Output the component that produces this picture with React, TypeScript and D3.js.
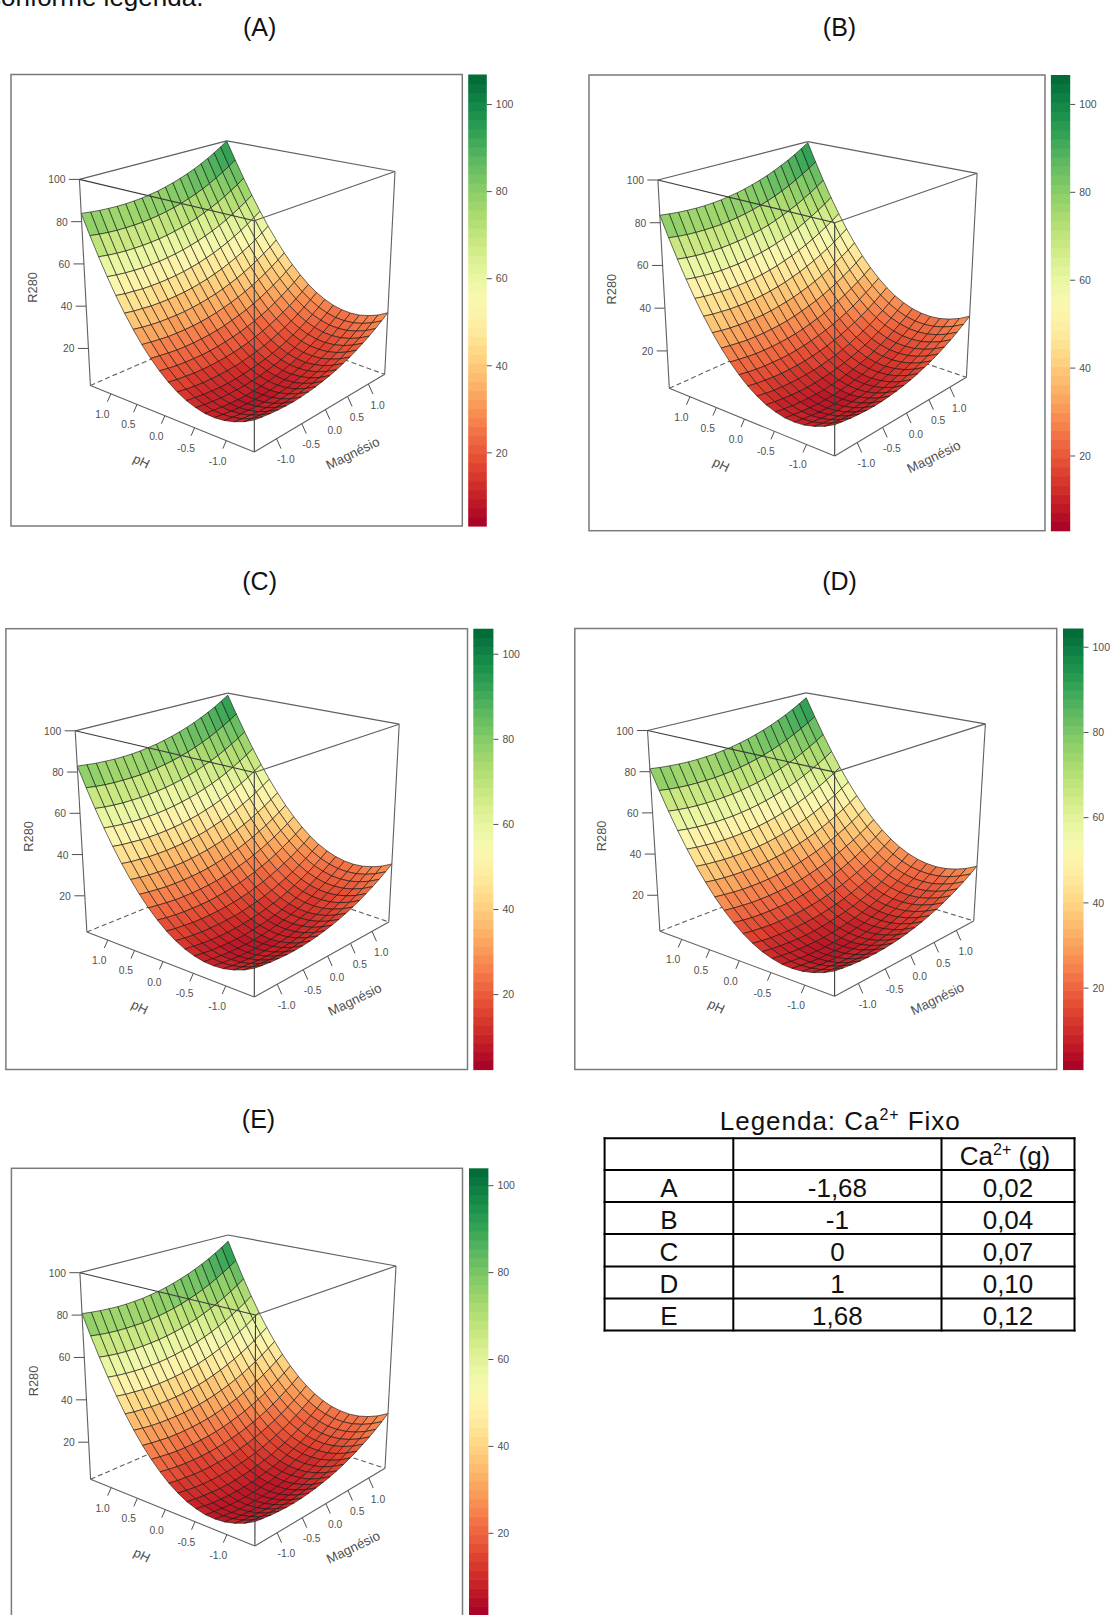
import * as d3 from 'd3';

// coded levels of the surface grid
const gridPH = [1.414, 1.265, 1.116, 0.968, 0.819, 0.67, 0.521, 0.372, 0.223, 0.074, -0.074, -0.223, -0.372, -0.521, -0.67, -0.819, -0.968, -1.116, -1.265, -1.414];
const gridMg = [-1.414, -1.265, -1.116, -0.968, -0.819, -0.67, -0.521, -0.372, -0.223, -0.074, 0.074, 0.223, 0.372, 0.521, 0.67, 0.819, 0.968, 1.116, 1.265, 1.414];

// R280: one row per pH level, one column per Magnesio level
const r280Grid = [
  [83.9, 83.3, 82.8, 82.5, 82.3, 82.3, 82.5, 82.8, 83.4, 84.0, 84.9, 85.9, 87.1, 88.4, 89.9, 91.6, 93.4, 95.4, 97.6, 99.9],
  [74.4, 73.7, 73.2, 72.9, 72.8, 72.8, 72.9, 73.3, 73.8, 74.5, 75.3, 76.3, 77.5, 78.8, 80.3, 82.0, 83.9, 85.9, 88.0, 90.4],
  [65.5, 64.8, 64.3, 64.0, 63.9, 63.9, 64.1, 64.4, 64.9, 65.6, 66.4, 67.4, 68.6, 70.0, 71.5, 73.1, 75.0, 77.0, 79.1, 81.5],
  [57.3, 56.6, 56.1, 55.8, 55.6, 55.7, 55.8, 56.2, 56.7, 57.4, 58.2, 59.2, 60.4, 61.7, 63.2, 64.9, 66.8, 68.8, 70.9, 73.3],
  [49.7, 49.0, 48.6, 48.2, 48.1, 48.1, 48.3, 48.6, 49.1, 49.8, 50.6, 51.7, 52.8, 54.2, 55.7, 57.4, 59.2, 61.2, 63.4, 65.7],
  [42.8, 42.1, 41.7, 41.3, 41.2, 41.2, 41.4, 41.7, 42.2, 42.9, 43.7, 44.8, 45.9, 47.3, 48.8, 50.5, 52.3, 54.3, 56.5, 58.8],
  [36.6, 35.9, 35.4, 35.1, 35.0, 35.0, 35.1, 35.5, 36.0, 36.7, 37.5, 38.5, 39.7, 41.0, 42.5, 44.2, 46.1, 48.1, 50.2, 52.6],
  [31.0, 30.4, 29.9, 29.5, 29.4, 29.4, 29.6, 29.9, 30.4, 31.1, 32.0, 33.0, 34.1, 35.5, 37.0, 38.7, 40.5, 42.5, 44.7, 47.0],
  [26.1, 25.5, 25.0, 24.6, 24.5, 24.5, 24.7, 25.0, 25.5, 26.2, 27.1, 28.1, 29.2, 30.6, 32.1, 33.8, 35.6, 37.6, 39.8, 42.1],
  [21.9, 21.2, 20.7, 20.4, 20.3, 20.3, 20.4, 20.8, 21.3, 22.0, 22.8, 23.8, 25.0, 26.3, 27.8, 29.5, 31.4, 33.4, 35.5, 37.9],
  [18.3, 17.6, 17.2, 16.8, 16.7, 16.7, 16.9, 17.2, 17.7, 18.4, 19.2, 20.3, 21.4, 22.8, 24.3, 26.0, 27.8, 29.8, 32.0, 34.3],
  [15.4, 14.7, 14.2, 13.9, 13.8, 13.8, 14.0, 14.3, 14.8, 15.5, 16.3, 17.3, 18.5, 19.9, 21.4, 23.0, 24.9, 26.9, 29.1, 31.4],
  [13.1, 12.5, 12.0, 11.7, 11.5, 11.5, 11.7, 12.1, 12.6, 13.3, 14.1, 15.1, 16.3, 17.6, 19.1, 20.8, 22.6, 24.6, 26.8, 29.2],
  [11.6, 10.9, 10.4, 10.1, 10.0, 10.0, 10.1, 10.5, 11.0, 11.7, 12.5, 13.5, 14.7, 16.0, 17.5, 19.2, 21.1, 23.1, 25.2, 27.6],
  [10.6, 10.0, 9.5, 9.2, 9.0, 9.0, 9.2, 9.6, 10.1, 10.8, 11.6, 12.6, 13.8, 15.1, 16.6, 18.3, 20.1, 22.1, 24.3, 26.7],
  [10.4, 9.8, 9.3, 8.9, 8.8, 8.8, 9.0, 9.3, 9.8, 10.5, 11.4, 12.4, 13.5, 14.9, 16.4, 18.1, 19.9, 21.9, 24.1, 26.4],
  [10.8, 10.2, 9.7, 9.4, 9.2, 9.2, 9.4, 9.7, 10.2, 10.9, 11.8, 12.8, 14.0, 15.3, 16.8, 18.5, 20.3, 22.3, 24.5, 26.8],
  [11.9, 11.2, 10.8, 10.4, 10.3, 10.3, 10.5, 10.8, 11.3, 12.0, 12.8, 13.9, 15.0, 16.4, 17.9, 19.6, 21.4, 23.4, 25.6, 27.9],
  [13.6, 13.0, 12.5, 12.2, 12.0, 12.0, 12.2, 12.6, 13.1, 13.7, 14.6, 15.6, 16.8, 18.1, 19.6, 21.3, 23.1, 25.1, 27.3, 29.6],
  [16.0, 15.4, 14.9, 14.6, 14.4, 14.4, 14.6, 15.0, 15.5, 16.2, 17.0, 18.0, 19.2, 20.5, 22.0, 23.7, 25.5, 27.5, 29.7, 32.1],
];

// how far each panel's surface sits below panel A (read from the corners)
const panelIds = ['A', 'B', 'C', 'D', 'E'];
const panelOffset = [0, -0.4, -1, -2.5, -3.2];
const colorLimits = [[3.2, 106.9], [3, 106.7], [2.4, 106], [0.9, 104.4], [1.2, 104]];

const zTicks = [20, 40, 60, 80, 100];
const axisTicks = [1, 0.5, 0, -0.5, -1];
const barTicks = [20, 40, 60, 80, 100];

// legend table
const legendLabels = ['A', 'B', 'C', 'D', 'E'];
const codedLevels = ['-1,68', '-1', '0', '1', '1,68'];
const caGrams = ['0,02', '0,04', '0,07', '0,10', '0,12'];

type Pt = [number, number];
type Layout = {
  rect: [number, number, number, number];
  bar: [number, number];
  barY: [number, number];
  titleX: number;
  titleY: number;
  topL: Pt; topB: Pt; topR: Pt; topF: Pt;
  botL: Pt; botB: Pt; botR: Pt; botF: Pt;
};

const layouts: Layout[] = [
  { rect: [11, 74.5, 462.3, 526], bar: [468.2, 486.8], barY: [74.5, 526], titleX: 259.6, titleY: 36, 
    topL: [79.4, 179.4], topB: [226.7, 140.8], topR: [395, 171.5], topF: [254.3, 220.8],
    botL: [90.4, 385.4], botB: [238.7, 321.2], botR: [384.7, 374.3], botF: [254.3, 452] },
  { rect: [589, 75, 1045, 530.7], bar: [1050.9, 1070.2], barY: [75, 530.7], titleX: 839.5, titleY: 36,
    topL: [657.9, 180], topB: [807.8, 141.7], topR: [977.1, 173.3], topF: [834.7, 222.7],
    botL: [669.3, 388.3], botB: [811, 324.3], botR: [966.4, 377.3], botF: [834.7, 456] },
  { rect: [5.9, 628.7, 467.5, 1069.5], bar: [473.3, 493.4], barY: [628.7, 1069.5], titleX: 259.6, titleY: 590,
    topL: [75.2, 730.8], topB: [227.7, 693.2], topR: [399.2, 724.2], topF: [254.3, 772.5],
    botL: [86.9, 931.9], botB: [237.7, 870.9], botR: [388.8, 921.9], botF: [254.3, 997.1] },
  { rect: [574.8, 628.5, 1056.7, 1069.5], bar: [1063, 1083.5], barY: [628.5, 1069.5], titleX: 839.5, titleY: 590,
    topL: [647.5, 730.5], topB: [806, 692.9], topR: [985.4, 723.9], topF: [834.6, 772.1],
    botL: [659.9, 931.3], botB: [813.1, 872], botR: [973.7, 920.9], botF: [834.6, 996.3] },
  { rect: [11.4, 1168.3, 462.5, 1640], bar: [469, 488.4], barY: [1168.3, 1615], titleX: 258.5, titleY: 1128,
    topL: [79.9, 1272.7], topB: [228, 1235], topR: [396, 1266], topF: [255.5, 1315],
    botL: [90.6, 1479.3], botB: [232, 1418], botR: [385, 1468.3], botF: [254.9, 1546] },
];

const FONT = '"Liberation Sans", Arial, sans-serif';
const TICK = '#505050';
const BOX = '#606060';

const lerp = (a: Pt, b: Pt, t: number): Pt => [a[0] + (b[0] - a[0]) * t, a[1] + (b[1] - a[1]) * t];

// foreshortening: the corner nearest the viewer is stretched
const NEAR = 1.2;
const warpPH = (t: number) => t / (t + (1 - t) * NEAR);
const warpMg = (v: number) => (v * NEAR) / (v * NEAR + (1 - v));

const phScale = d3.scaleLinear().domain([1.414, -1.414]).range([0, 1]);
const mgScale = d3.scaleLinear().domain([-1.414, 1.414]).range([0, 1]);
const zScale = d3.scaleLinear().domain([2.5, 100]).range([0, 1]);

function makeProjector(l: Layout) {
  return (ph: number, mg: number, z: number): Pt => {
    const t = warpPH(phScale(ph));
    const v = warpMg(mgScale(mg));
    const bot = lerp(lerp(l.botL, l.botF, t), lerp(l.botB, l.botR, t), v);
    const top = lerp(lerp(l.topL, l.topF, t), lerp(l.topB, l.topR, t), v);
    return lerp(bot, top, zScale(z));
  };
}

function Segment({ a, b, ...rest }: any) {
  return <line x1={a[0]} y1={a[1]} x2={b[0]} y2={b[1]} {...rest} />;
}

function Panel({ index }: { index: number }) {
  const l = layouts[index];
  const offset = panelOffset[index];
  const [lo, hi] = colorLimits[index];
  const project = makeProjector(l);
  const line = d3.line();

  const bandColors = d3.range(50).map(i => d3.interpolateRdYlGn((i + 0.5) / 50));
  const color = d3.scaleQuantize<string>().domain([lo, hi]).range(bandColors);
  const barY = d3.scaleLinear().domain([lo, hi]).range([l.barY[1], l.barY[0]]);

  // back to front: from the back corner (first row, last column) to the front one
  const cells: { d: string; fill: string; key: string }[] = [];
  for (let i = 0; i < gridPH.length - 1; i++) {
    for (let j = gridMg.length - 2; j >= 0; j--) {
      const corners: [number, number][] = [[i, j], [i + 1, j], [i + 1, j + 1], [i, j + 1]];
      const zs = corners.map(([a, b]) => r280Grid[a][b] + offset);
      const pts = corners.map(([a, b], k) => project(gridPH[a], gridMg[b], zs[k]));
      cells.push({ d: line(pts) + 'Z', fill: color(d3.mean(zs) as number), key: `${i}-${j}` });
    }
  }

  const bands = d3.range(50).map(i => {
    const y0 = lo + ((hi - lo) * i) / 50;
    const y1 = lo + ((hi - lo) * (i + 1)) / 50;
    return { y: barY(y1), h: barY(y0) - barY(y1) + 0.6, fill: bandColors[i] };
  });

  const [x0, y0, x1, y1] = l.rect;
  const phMid = lerp(l.botL, l.botF, 0.5);
  const mgMid = lerp(l.botF, l.botR, 0.5);

  return (
    <g fontFamily={FONT}>
      <text x={l.titleX} y={l.titleY} textAnchor="middle" fontSize={25} fill="#111">({panelIds[index]})</text>
      <rect x={x0} y={y0} width={x1 - x0} height={y1 - y0} fill="#fff" stroke="#7a7a7a" strokeWidth={1.5} />

      {/* back of the box */}
      <Segment a={l.botL} b={l.botB} stroke={BOX} strokeWidth={1.1} strokeDasharray="5 3" />
      <Segment a={l.botB} b={l.botR} stroke={BOX} strokeWidth={1.1} strokeDasharray="5 3" />
      <Segment a={l.topL} b={l.topB} stroke={BOX} strokeWidth={1.2} />
      <Segment a={l.topB} b={l.topR} stroke={BOX} strokeWidth={1.2} />

      {cells.map(c => (
        <path key={c.key} d={c.d} fill={c.fill} stroke="#151515" strokeOpacity={0.78} strokeWidth={0.8} strokeLinejoin="round" />
      ))}

      {/* front of the box */}
      <Segment a={l.topL} b={l.topF} stroke="#3c3c3c" strokeWidth={1.1} />
      <Segment a={l.topF} b={l.topR} stroke={BOX} strokeWidth={1.2} />
      <Segment a={l.topL} b={l.botL} stroke={BOX} strokeWidth={1.1} />
      <Segment a={l.topF} b={l.botF} stroke="#3c3c3c" strokeWidth={1.1} />
      <Segment a={l.topR} b={l.botR} stroke={BOX} strokeWidth={1.1} />
      <Segment a={l.botL} b={l.botF} stroke={BOX} strokeWidth={1.1} />
      <Segment a={l.botF} b={l.botR} stroke={BOX} strokeWidth={1.1} />

      {/* R280 axis on the left edge */}
      {zTicks.map(v => {
        const p = lerp(l.botL, l.topL, zScale(v));
        return (
          <g key={v}>
            <Segment a={p} b={[p[0] - 10.5, p[1]]} stroke={TICK} strokeWidth={1} />
            <text x={p[0] - 14} y={p[1] + 4} textAnchor="end" fontSize={10.3} fill={TICK}>{v}</text>
          </g>
        );
      })}
      <text transform={`translate(${l.topL[0] - 42},${(l.topL[1] + l.botL[1]) / 2 + 5}) rotate(-90)`} textAnchor="middle" fontSize={12.8} fill={TICK}>R280</text>

      {/* pH axis */}
      {axisTicks.map(v => {
        const p = lerp(l.botL, l.botF, warpPH(phScale(v)));
        return (
          <g key={v}>
            <Segment a={p} b={[p[0] - 3.5, p[1] + 8]} stroke={TICK} strokeWidth={1} />
            <text x={p[0] - 8.6} y={p[1] + 24} textAnchor="middle" fontSize={10.3} fill={TICK}>{v.toFixed(1)}</text>
          </g>
        );
      })}
      <text transform={`translate(${phMid[0] - 32.8},${phMid[1] + 46.6}) rotate(26)`} textAnchor="middle" fontSize={13} fill={TICK}>pH</text>

      {/* Magnesio axis */}
      {axisTicks.map(v => {
        const p = lerp(l.botF, l.botR, warpMg(mgScale(v)));
        return (
          <g key={v}>
            <Segment a={p} b={[p[0] + 4.5, p[1] + 10]} stroke={TICK} strokeWidth={1} />
            <text x={p[0] + 9.3} y={p[1] + 24.5} textAnchor="middle" fontSize={10.3} fill={TICK}>{v.toFixed(1)}</text>
          </g>
        );
      })}
      <text transform={`translate(${mgMid[0] + 35.2},${mgMid[1] + 44.2}) rotate(-26)`} textAnchor="middle" fontSize={13.3} fill={TICK}>Magnésio</text>

      {/* colour key */}
      {bands.map((b, i) => (
        <rect key={i} x={l.bar[0]} y={b.y} width={l.bar[1] - l.bar[0]} height={b.h} fill={b.fill} />
      ))}
      {barTicks.map(v => (
        <g key={v}>
          <Segment a={[l.bar[1], barY(v)]} b={[l.bar[1] + 5, barY(v)]} stroke={TICK} strokeWidth={1} />
          <text x={l.bar[1] + 9} y={barY(v) + 3.8} fontSize={10.5} fill={TICK}>{v}</text>
        </g>
      ))}
    </g>
  );
}

function LegendTable() {
  const cols = [604.6, 733.3, 941.5, 1074.5];
  const rows = [1138.3, 1170, 1202, 1234, 1266.4, 1298.6, 1330.5];
  const mid = (i: number) => (cols[i] + cols[i + 1]) / 2;
  return (
    <g fontFamily={FONT} fill="#111">
      <text x={719.8} y={1130} fontSize={26} textLength={240} lengthAdjust="spacing">
        Legenda: Ca<tspan dy={-10} fontSize={16}>2+</tspan><tspan dy={10}> Fixo</tspan>
      </text>
      {cols.map(x => <line key={x} x1={x} x2={x} y1={rows[0] - 1} y2={rows[6] + 1} stroke="#000" strokeWidth={2} />)}
      {rows.map(y => <line key={y} x1={cols[0] - 1} x2={cols[3] + 1} y1={y} y2={y} stroke="#000" strokeWidth={2} />)}
      <text x={mid(2) - 3} y={rows[1] - 5} textAnchor="middle" fontSize={26}>
        Ca<tspan dy={-10} fontSize={16}>2+</tspan><tspan dy={10}> (g)</tspan>
      </text>
      {legendLabels.map((label, i) => (
        <g key={label} fontSize={26} textAnchor="middle">
          <text x={mid(0)} y={rows[i + 2] - 5.5}>{label}</text>
          <text x={mid(1)} y={rows[i + 2] - 5.5}>{codedLevels[i]}</text>
          <text x={mid(2)} y={rows[i + 2] - 5.5}>{caGrams[i]}</text>
        </g>
      ))}
    </g>
  );
}

export default function App() {
  return (
    <svg width={1113} height={1615} viewBox="0 0 1113 1615" style={{ position: 'absolute', left: 0, top: 0, display: 'block', background: '#fff' }}>
      <text x={-12} y={6} fontFamily={FONT} fontSize={26} fill="#111">conforme legenda.</text>
      {panelIds.map((id, i) => <Panel key={id} index={i} />)}
      <LegendTable />
    </svg>
  );
}
